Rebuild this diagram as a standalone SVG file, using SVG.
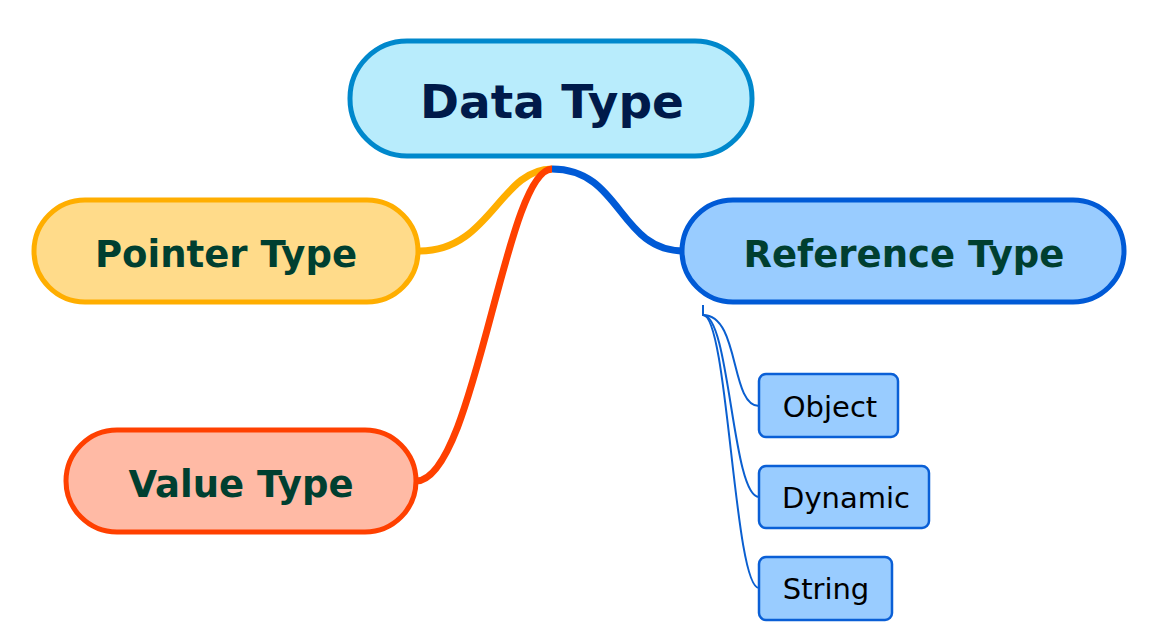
<svg xmlns="http://www.w3.org/2000/svg" width="1159" height="641" viewBox="0 0 1159 641">
<style>
.main{font-family:"DejaVu Sans",Verdana,sans-serif;font-weight:bold;text-anchor:middle}
.sub{font-family:"DejaVu Sans",Verdana,sans-serif;font-size:29px;text-anchor:middle;fill:#000}
.c{fill:none}
.subbox{fill:#99ccff;stroke:#0a5fd6;stroke-width:2.5}
.subline{fill:none;stroke:#0a5fd0;stroke-width:2}
</style>
<rect width="1159" height="641" fill="#fff"/>
<g id="connectors">
<path class="c" d="M552 169 C500 169 490 251 420 251" stroke="#ffae00" stroke-width="7"/>
<path class="c" d="M552 169 C505 169 475 481 416 481" stroke="#ff4000" stroke-width="7"/>
<path class="c" d="M552 169 C622 169 618 251 684 251" stroke="#005ad6" stroke-width="7"/>
<path class="subline" d="M703 305 V315 C740 315 730 406 759 406"/>
<path class="subline" d="M703 315 C730 315 732 497 759 497"/>
<path class="subline" d="M703 315 C728 315 734 588 759 588"/>
</g>
<g id="data-type">
<rect x="350" y="41" width="402" height="115" rx="57" fill="#b8ecfc" stroke="#0088cc" stroke-width="5"/>
<text class="main" x="552" y="118" font-size="47" fill="#001a4a">Data Type</text>
</g>
<g id="pointer-type">
<rect x="34" y="200" width="384" height="102" rx="51" fill="#ffdb8a" stroke="#ffae00" stroke-width="5"/>
<text class="main" x="226" y="267" font-size="37" fill="#003f30">Pointer Type</text>
</g>
<g id="reference-type">
<rect x="682" y="200" width="442" height="102" rx="51" fill="#99ccff" stroke="#005ad6" stroke-width="5"/>
<text class="main" x="904" y="267" font-size="37" fill="#003f30">Reference Type</text>
</g>
<g id="value-type">
<rect x="66" y="430" width="350" height="102" rx="51" fill="#ffbaa5" stroke="#ff4000" stroke-width="5"/>
<text class="main" x="241" y="497" font-size="37" fill="#003f30">Value Type</text>
</g>
<g id="object">
<rect class="subbox" x="759" y="374" width="139" height="63" rx="7"/>
<text class="sub" x="830" y="417">Object</text>
</g>
<g id="dynamic">
<rect class="subbox" x="759" y="466" width="170" height="62" rx="7"/>
<text class="sub" x="846" y="508">Dynamic</text>
</g>
<g id="string">
<rect class="subbox" x="759" y="557" width="133" height="63" rx="7"/>
<text class="sub" x="826" y="599">String</text>
</g>
</svg>
